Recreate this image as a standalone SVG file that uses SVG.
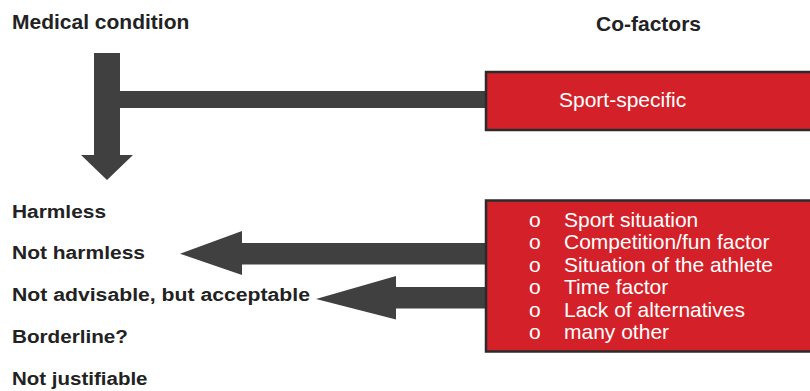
<svg xmlns="http://www.w3.org/2000/svg" width="810" height="391" viewBox="0 0 810 391">
  <style>
    .head { font-family: "Liberation Sans", Arial, sans-serif; font-weight: bold; font-size: 21px; fill: #222222; }
    .level { font-family: "Liberation Sans", Arial, sans-serif; font-weight: bold; font-size: 18.8px; fill: #222222; }
    .box { fill: #d42129; stroke: #2b2b2b; stroke-width: 2.5; }
    .boxtext { font-family: "Liberation Sans", Arial, sans-serif; font-size: 21px; fill: #ffffff; }
    .arrow { fill: #404040; }
  </style>
  <rect width="810" height="391" fill="#ffffff"/>

  <!-- column headings -->
  <g id="heading-medical">
    <text class="head" x="12" y="29">Medical condition</text>
  </g>
  <g id="heading-cofactors">
    <text class="head" x="596" y="31">Co-factors</text>
  </g>

  <!-- connectors -->
  <g id="connectors">
    <!-- vertical arrow with the sport-specific branch joining it -->
    <path class="arrow" d="M94 53 H120 V91 H486 V108 H120 V155 H133 L107 180 L81 155 H94 Z"/>
    <!-- co-factor arrows pointing to the outcome levels -->
    <path class="arrow" d="M486 243 V264.5 H242 V275 L180 253.7 L242 231 V243 Z"/>
    <path class="arrow" d="M486 287 V308.5 H396 V319.5 L316 299 L396 276 V287 Z"/>
  </g>

  <!-- sport-specific box -->
  <g id="sport-specific">
    <rect class="box" x="486" y="72" width="330" height="58"/>
    <text class="boxtext" x="559" y="106.7" font-size="21.4">Sport-specific</text>
  </g>

  <!-- co-factor list box -->
  <g id="cofactor-list">
    <rect class="box" x="486" y="200.5" width="330" height="151"/>
    <g class="boxtext">
      <text x="529" y="226.7">o</text><text x="564" y="226.7">Sport situation</text>
      <text x="529" y="249.3">o</text><text x="564" y="249.3">Competition/fun factor</text>
      <text x="529" y="271.8">o</text><text x="564" y="271.8">Situation of the athlete</text>
      <text x="529" y="294.3">o</text><text x="564" y="294.3">Time factor</text>
      <text x="529" y="316.8">o</text><text x="564" y="316.8">Lack of alternatives</text>
      <text x="529" y="339.3">o</text><text x="564" y="339.3">many other</text>
    </g>
  </g>

  <!-- outcome levels -->
  <g id="level-harmless">
    <text class="level" x="12" y="217.7" textLength="94" lengthAdjust="spacingAndGlyphs">Harmless</text>
  </g>
  <g id="level-not-harmless">
    <text class="level" x="12" y="259.3" textLength="133" lengthAdjust="spacingAndGlyphs">Not harmless</text>
  </g>
  <g id="level-not-advisable">
    <text class="level" x="12" y="301" textLength="298" lengthAdjust="spacingAndGlyphs">Not advisable, but acceptable</text>
  </g>
  <g id="level-borderline">
    <text class="level" x="12" y="343.3" textLength="116" lengthAdjust="spacingAndGlyphs">Borderline?</text>
  </g>
  <g id="level-not-justifiable">
    <text class="level" x="12" y="385" textLength="135.5" lengthAdjust="spacingAndGlyphs">Not justifiable</text>
  </g>
</svg>
